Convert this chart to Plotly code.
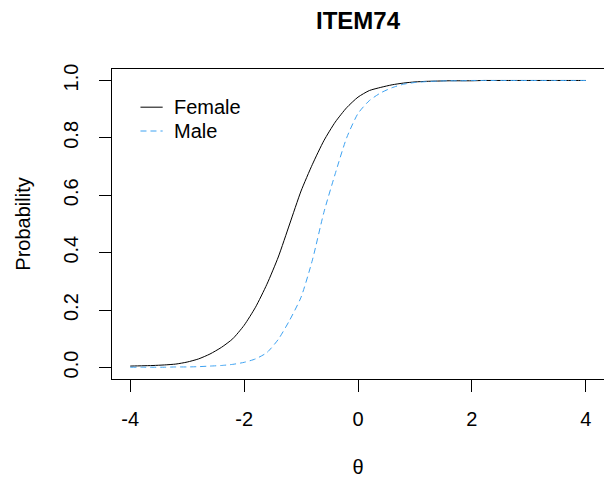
import plotly.graph_objects as go

theta = [-4.0, -3.8, -3.6, -3.4, -3.2, -3.0, -2.8, -2.6, -2.4, -2.2, -2.0,
         -1.8, -1.6, -1.4, -1.2, -1.0, -0.8, -0.6, -0.4, -0.2, 0.0,
         0.2, 0.4, 0.6, 0.8, 1.0, 1.2, 1.4, 1.6, 1.8, 2.0,
         2.2, 2.4, 2.6, 2.8, 3.0, 3.2, 3.4, 3.6, 3.8, 4.0]

female = [0.005, 0.006, 0.007, 0.009, 0.012, 0.019, 0.030, 0.047, 0.070, 0.100, 0.147,
          0.210, 0.290, 0.385, 0.500, 0.615, 0.708, 0.790, 0.855, 0.905, 0.942,
          0.965, 0.976, 0.985, 0.991, 0.995, 0.997, 0.998, 0.999, 0.999, 0.999,
          1.0, 1.0, 1.0, 1.0, 1.0, 1.0, 1.0, 1.0, 1.0, 1.0]

male = [0.001, 0.001, 0.001, 0.001, 0.002, 0.002, 0.003, 0.005, 0.007, 0.011, 0.018,
        0.030, 0.052, 0.098, 0.165, 0.245, 0.375, 0.540, 0.675, 0.800, 0.885,
        0.930, 0.957, 0.975, 0.987, 0.993, 0.996, 0.998, 0.999, 0.999, 1.0,
        1.0, 1.0, 1.0, 1.0, 1.0, 1.0, 1.0, 1.0, 1.0, 1.0]

x_ticks = [-4, -2, 0, 2, 4]
x_tick_labels = ["-4", "-2", "0", "2", "4"]
y_ticks = [0.0, 0.2, 0.4, 0.6, 0.8, 1.0]
y_tick_labels = ["0.0", "0.2", "0.4", "0.6", "0.8", "1.0"]

series_names = ["Female", "Male"]
BLUE = "#3DA2F2"
FONT = "Liberation Sans, Arial, sans-serif"
DASH = "6px,4px"

fig = go.Figure()
fig.add_trace(go.Scatter(x=theta, y=female, mode="lines", name=series_names[0],
                         line=dict(color="black", width=1, shape="spline", smoothing=0.6),
                         showlegend=False))
fig.add_trace(go.Scatter(x=theta, y=male, mode="lines", name=series_names[1],
                         line=dict(color=BLUE, width=1, dash=DASH, shape="spline", smoothing=0.6),
                         showlegend=False))

# manual legend (R style, no box)
leg_x0, leg_x1, leg_tx = -3.82, -3.43, -3.27
leg_y = [0.907, 0.824]
styles = [dict(color="black", width=1), dict(color=BLUE, width=1, dash=DASH)]
for name, yy, st in zip(series_names, leg_y, styles):
    fig.add_shape(type="line", xref="x", yref="y", x0=leg_x0, x1=leg_x1, y0=yy, y1=yy, line=st)
    fig.add_annotation(x=leg_tx, y=yy, xref="x", yref="y", text=name, showarrow=False,
                       xanchor="left", yanchor="middle",
                       font=dict(family=FONT, size=20, color="black"))

fig.update_layout(
    width=604, height=481,
    margin=dict(l=112, r=0, t=69, b=102),
    paper_bgcolor="white", plot_bgcolor="white",
    font=dict(family=FONT, size=20, color="black"),
    title=dict(text="<b>ITEM74</b>", x=(112 + 604) / 2 / 604, xanchor="center",
               y=1 - 20.5 / 481, yanchor="middle",
               font=dict(family=FONT, size=24, color="black")),
    xaxis=dict(range=[-4.32, 4.32], tickvals=x_ticks, ticktext=x_tick_labels,
               showgrid=False, zeroline=False, showline=True, mirror=True,
               linecolor="black", linewidth=1, ticks="outside", ticklen=12,
               tickcolor="black", tickwidth=1, ticklabelstandoff=10,
               tickfont=dict(size=20),
               title=dict(text="θ", standoff=30, font=dict(size=20))),
    yaxis=dict(range=[-0.04, 1.04], tickvals=y_ticks, ticktext=y_tick_labels,
               showgrid=False, zeroline=False, showline=True, mirror=True,
               linecolor="black", linewidth=1, ticks="outside", ticklen=12,
               tickcolor="black", tickwidth=1, tickangle=-90, ticklabelstandoff=13,
               tickfont=dict(size=20),
               title=dict(text="Probability", standoff=24, font=dict(size=20))),
)

fig.write_html("out.html")
